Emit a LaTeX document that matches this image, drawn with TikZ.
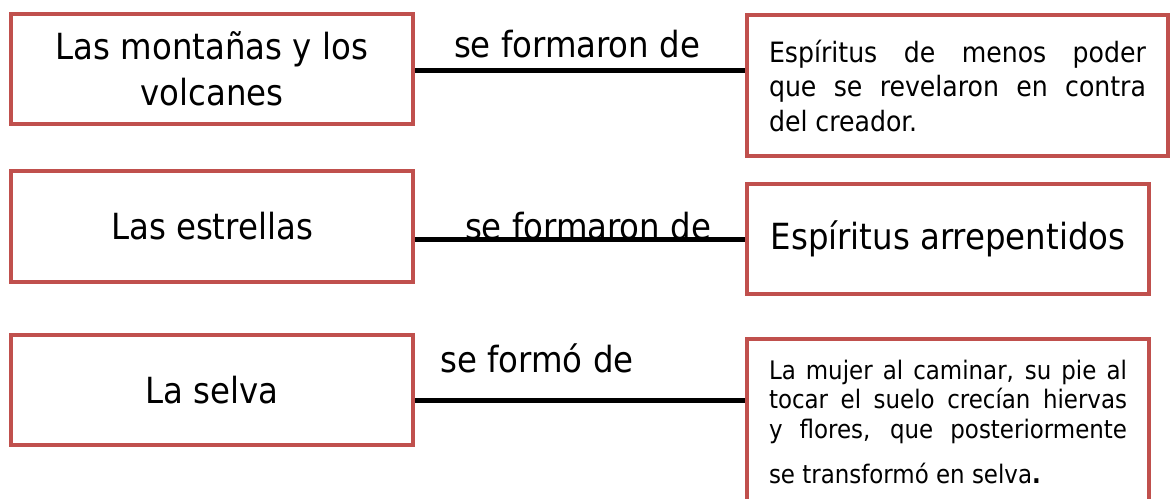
\documentclass[tikz,border=0pt]{standalone}
\usepackage{fontspec}
\setmainfont{DejaVu Sans Condensed}
\usetikzlibrary{backgrounds}
\definecolor{boxred}{HTML}{C0504D}
\begin{document}
\begin{tikzpicture}[x=1pt,y=-1pt,
  box/.style={draw=boxred, line width=4pt, fill=white, inner sep=0pt, align=center},
  link/.style={line width=5pt, black},
  lbl/.style={inner sep=0pt, anchor=base, font=\fontsize{36}{40}\selectfont}]
\useasboundingbox (0,0) rectangle (1174,498);
\clip (0,0) rectangle (1174,498);

% row 1
\node[box, minimum width=402pt, minimum height=110pt, font=\fontsize{36}{46}\selectfont] (l1) at (212,69) {Las montañas y los\\volcanes};
\node[box, minimum width=421pt, minimum height=141pt, text width=377pt, align=justify, font=\fontsize{28}{34.5}\selectfont] (r1) at (957.5,85.5) {Espíritus de menos poder\linebreak que se revelaron en contra\linebreak del creador.};
\node[lbl] (t1) at (577,57) {se formaron de};

% row 2
\node[box, minimum width=402pt, minimum height=111pt, font=\fontsize{36}{46}\selectfont] (l2) at (212,226.5) {Las estrellas};
\node[box, minimum width=402pt, minimum height=110pt, font=\fontsize{36}{46}\selectfont] (r2) at (948,239) {Espíritus arrepentidos};
\node[lbl] (t2) at (588,239.5) {se formaron de};

% row 3
\node[box, minimum width=402pt, minimum height=110pt, font=\fontsize{36}{46}\selectfont] (l3) at (212,390) {La selva};
\node[box, minimum width=402pt, minimum height=166pt, text width=358pt, align=justify, font=\fontsize{25.5}{29.5}\selectfont] (r3) at (948,422) {La mujer al caminar, su pie al\linebreak tocar el suelo crecían hiervas\linebreak y flores, que posteriormente{\parfillskip=0pt\par}\vspace{16pt}se transformó en selva\textbf{.}};
\node[lbl] (t3) at (537,372) {se formó de};

% connectors
\begin{scope}[on background layer]
\draw[link] ([yshift=-1pt]l1.east) -- ([yshift=-1pt]l1.east -| r1.west);
\draw[link] (r2.west) -- (r2.west -| l2.east);
\draw[link] ([yshift=-10pt]l3.east) -- ([yshift=-10pt]l3.east -| r3.west);
\end{scope}
\end{tikzpicture}
\end{document}
